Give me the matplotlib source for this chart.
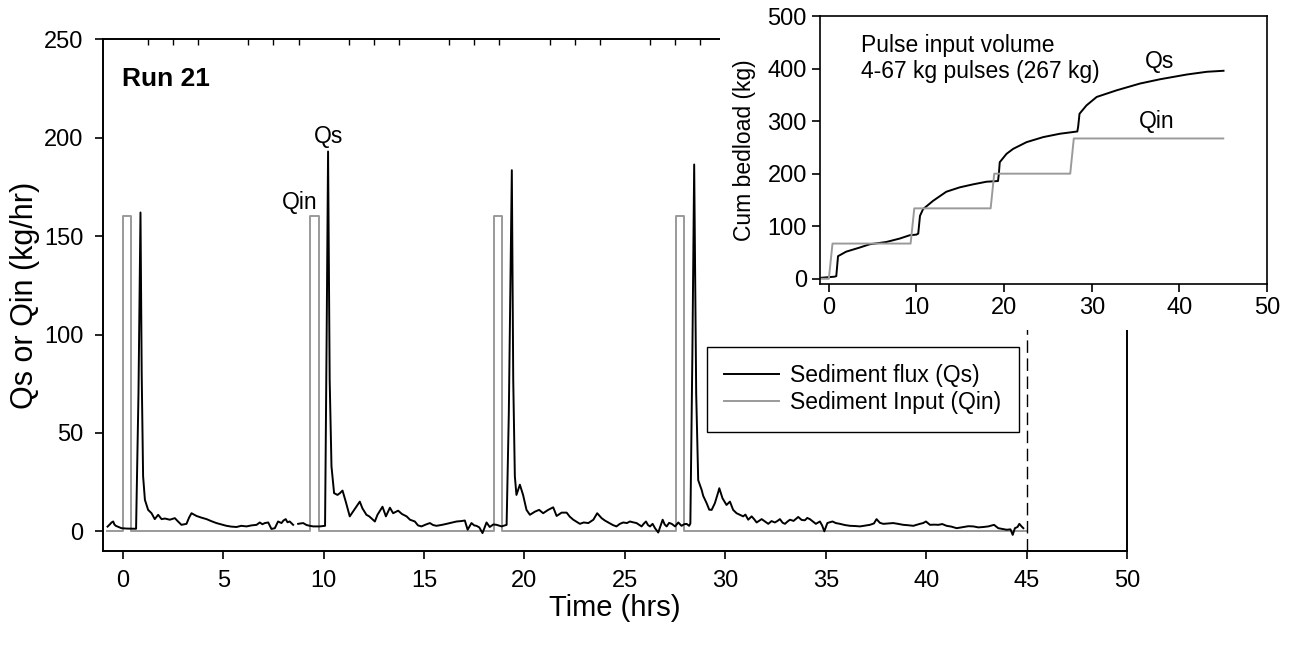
import numpy as np
import matplotlib
matplotlib.use("Agg")
import matplotlib.pyplot as plt
from matplotlib.ticker import MultipleLocator
from matplotlib.patches import Rectangle

plt.rcParams['font.family'] = ['Liberation Sans', 'DejaVu Sans']

# Sediment flux Qs (kg/hr) vs time (hrs)
qs_t = [-0.76, -0.64, -0.56, -0.48, -0.42, -0.35, -0.07, 0.2, 0.51, 0.66, 0.78, 0.88, 0.94, 1.01, 1.1,
        1.26, 1.43, 1.59, 1.76, 1.93, 2.1, 2.34, 2.59, 2.75, 2.92, 3.17, 3.3, 3.42, 3.67, 3.9, 4.17,
        4.4, 4.66, 4.9, 5.16, 5.4, 5.66, 5.9, 6.16, 6.4, 6.66, 6.82, 6.95, 7.07, 7.24, 7.4, 7.57,
        7.73, 7.9, 8.0, 8.11, 8.2, 8.31, 8.48, 8.6, 8.73, 8.98, 9.15, 9.31, 9.48, 9.81, 10.07, 10.15,
        10.22, 10.3, 10.39, 10.52, 10.69, 10.81, 10.94, 11.1, 11.3, 11.52, 11.8, 11.93, 12.13, 12.27,
        12.55, 12.68, 12.93, 13.1, 13.3, 13.46, 13.71, 13.9, 14.13, 14.3, 14.54, 14.7, 14.87, 15.1,
        15.29, 15.45, 15.62, 15.9, 16.12, 16.4, 16.62, 16.85, 17.03, 17.17, 17.36, 17.5, 17.61, 17.75,
        17.91, 18.11, 18.27, 18.45, 18.61, 18.86, 19.11, 19.22, 19.37, 19.44, 19.52, 19.6, 19.77,
        19.93, 20.1, 20.27, 20.52, 20.73, 20.93, 21.18, 21.43, 21.6, 21.85, 22.1, 22.25, 22.43,
        22.76, 22.95, 23.18, 23.43, 23.62, 23.84, 24.0, 24.17, 24.4, 24.58, 24.75, 24.92, 25.1,
        25.25, 25.4, 25.58, 25.7, 25.83, 25.95, 26.05, 26.15, 26.25, 26.38, 26.5, 26.66, 26.88,
        26.98, 27.08, 27.2, 27.33, 27.5, 27.66, 27.82, 27.95, 28.07, 28.2, 28.26, 28.36, 28.45,
        28.55, 28.65, 28.82, 28.9, 29.07, 29.2, 29.32, 29.48, 29.65, 29.7, 29.86, 30.06, 30.23,
        30.39, 30.56, 30.73, 30.89, 31.0, 31.14, 31.31, 31.45, 31.56, 31.81, 32.0, 32.14, 32.3,
        32.47, 32.6, 32.72, 32.85, 32.97, 33.1, 33.22, 33.4, 33.63, 33.8, 33.96, 34.08, 34.21,
        34.35, 34.51, 34.71, 34.82, 34.93, 35.08, 35.2, 35.34, 35.5, 35.71, 35.95, 36.21, 36.45,
        36.71, 36.95, 37.2, 37.4, 37.53, 37.7, 37.87, 38.1, 38.36, 38.6, 38.86, 39.1, 39.36, 39.69,
        39.85, 39.99, 40.19, 40.4, 40.61, 40.8, 41.02, 41.25, 41.52, 41.85, 42.1, 42.35, 42.6,
        42.85, 43.1, 43.38, 43.59, 43.8, 44.01, 44.2, 44.31, 44.42, 44.55, 44.64, 44.75, 44.84]
qs_v = [2.4, 3.6, 4.5, 5.0, 3.5, 2.8, 1.6, 1.4, 1.3, 1.3, 70, 162, 80, 28, 16,
        10.9, 9.2, 6.2, 8.4, 6.2, 6.5, 5.9, 6.7, 5.0, 3.3, 3.8, 7.0, 9.2, 7.8, 7.0, 6.2,
        5.2, 4.2, 3.5, 2.8, 2.4, 2.2, 2.8, 2.5, 3.0, 3.3, 4.5, 3.6, 4.2, 4.5, 1.2, 1.6,
        5.0, 4.2, 5.5, 6.2, 4.6, 5.0, 3.3, np.nan, 3.8, 4.2, 3.2, 2.8, 2.5, 2.5, 2.8, 100,
        193, 77, 33, 19.4, 18.5, 19.4, 20.7, 15.1, 7.6, 10.9, 15.1, 11.7, 8.4, 7.6,
        5.0, 8.4, 12.5, 7.6, 12.0, 9.2, 10.5, 8.8, 7.6, 5.9, 5.0, 3.0, 2.5, 3.5,
        4.2, 3.2, 2.8, 3.3, 3.8, 4.5, 5.0, 5.2, 5.5, 0.8, 4.2, 3.0, 2.8, 2.0,
        -0.9, 4.5, 2.2, 3.5, 3.3, 2.5, 3.3, 60, 183.5, 77, 28, 18.5, 23.7,
        18.5, 10.9, 8.4, 10.0, 10.9, 9.2, 10.9, 12.2, 7.8, 9.5, 9.5, 7.5, 5.9,
        3.8, 4.5, 4.2, 5.9, 9.2, 6.7, 5.5, 4.5, 3.2, 2.5, 3.8, 4.5, 4.2,
        5.0, 4.6, 4.2, 3.4, 2.5, 4.0, 5.0, 3.2, 2.5, 3.8, 1.6, -0.6, 5.9,
        3.5, 2.5, 4.3, 3.8, 2.5, 4.5, 2.8, 3.6, 3.8, 2.8, 4.0, 90, 186.4,
        70, 26, 21.1, 18, 14.3, 11, 10.9, 14.3, 20, 21.9, 16.8, 13.4, 15.1,
        10.9, 9.2, 8.4, 7.6, 8.5, 5.9, 7.6, 6.0, 4.5, 6.2, 4.8, 3.8, 5.2,
        4.5, 5.3, 6.2, 4.4, 3.8, 5.0, 5.9, 5.3, 7.3, 5.8, 5.6, 6.8, 6.2,
        5.1, 3.8, 5.0, 3.0, 0.0, 4.2, 4.6, 5.0, 4.2, 3.8, 3.2, 2.8, 2.7,
        2.5, 2.9, 3.3, 4.0, 6.2, 4.3, 3.8, 4.0, 4.2, 3.8, 3.3, 3.1, 2.8, 3.8,
        4.2, 5.0, 3.3, 3.4, 3.3, 3.7, 2.8, 2.4, 1.6, 2.2, 2.6, 2.5, 2.0,
        2.2, 2.5, 3.3, 1.6, 1.2, 0.8, 1.0, -1.8, 1.6, 2.2, 3.8, 2.5, 1.6]

# Sediment input pulses
pulse_start = [0.0, 9.33, 18.46, 27.54]
pulse_end = [0.42, 9.75, 18.87, 27.95]
pulse_rate = 160
run_start, run_end = -0.8, 45.0

# Cumulative bedload (kg) for the inset
cum_qs_t = [-0.87, 0.65, 0.85, 1.05, 1.98, 3.5, 4.65, 6.56, 8.08, 9.22, 9.98, 10.2, 10.4, 10.75,
            11.9, 13.4, 14.94, 16.46, 18.0, 19.3, 19.4, 19.5, 20.27, 21.03, 22.56, 24.46, 26.37,
            28.35, 28.45, 28.6, 29.4, 30.56, 32.85, 35.5, 37.8, 40.85, 43.13, 45.03]
cum_qs_v = [1.9, 4, 5, 43, 51.6, 59.3, 65.6, 70, 76.5, 82.8, 84, 86, 119.7, 132.5,
            148.4, 165.6, 174, 179.7, 184.7, 186, 200, 221.8, 237.7, 247.2, 260, 269.6, 276,
            280.3, 290, 314, 330, 346, 358.7, 371.5, 379.7, 388.7, 393.9, 395.8]
cum_qin_levels = [0, 67, 134, 200, 267]

# build the step series for Qin
qin_t = [run_start]
qin_v = [0]
for s, e in zip(pulse_start, pulse_end):
    qin_t += [s, s, e, e]
    qin_v += [0, pulse_rate, pulse_rate, 0]
qin_t.append(run_end)
qin_v.append(0)

cq_t = [-0.87]
cq_v = [0]
for i, (s, e) in enumerate(zip(pulse_start, pulse_end)):
    cq_t += [s, e]
    cq_v += [cum_qin_levels[i], cum_qin_levels[i + 1]]
cq_t.append(run_end)
cq_v.append(cum_qin_levels[-1])

fig = plt.figure(figsize=(12.89, 6.51), dpi=100)
ax = fig.add_axes([0.0797, 0.1536, 0.7946, 0.786])

gray = '#9a9a9a'
ax.plot(qs_t, qs_v, color='black', lw=1.4, label='Sediment flux (Qs)', zorder=3)
ax.plot(qin_t, qin_v, color=gray, lw=1.4, label='Sediment Input (Qin)', zorder=2)
ax.axvline(45, color='black', lw=1.0, linestyle=(0, (9, 4)))

ax.set_xlim(-1, 50)
ax.set_ylim(-10, 250)
ax.xaxis.set_major_locator(MultipleLocator(5))
ax.xaxis.set_minor_locator(MultipleLocator(1.25))
ax.yaxis.set_major_locator(MultipleLocator(50))
ax.tick_params(which='major', direction='out', length=6, width=1.2, labelsize=17, pad=8)
ax.tick_params(which='minor', axis='x', top=True, bottom=False, direction='in', length=4, width=1)
for sp in ax.spines.values():
    sp.set_linewidth(1.4)

ax.set_xlabel('Time (hrs)', fontsize=21, labelpad=1)
ax.set_ylabel('Qs or Qin (kg/hr)', fontsize=22, labelpad=3)

ax.text(-0.05, 229.6, 'Run 21', fontsize=19, fontweight='bold', va='center', ha='left')
ax.text(10.26, 200.8, 'Qs', fontsize=16.5, va='center', ha='center')
ax.text(8.81, 167.2, 'Qin', fontsize=16.5, va='center', ha='center')

leg = ax.legend(loc='upper left', bbox_to_anchor=(0.5482, 0.4674), bbox_transform=fig.transFigure,
                borderaxespad=0, fancybox=False, framealpha=1, edgecolor='black', fontsize=16.5,
                handlelength=2.4, handletextpad=0.5, borderpad=0.75, labelspacing=0.2)
leg.get_frame().set_linewidth(1.0)

# white block behind the inset so the main frame is hidden there
fig.patches.append(Rectangle((0.5586, 0.4931), 0.45, 0.51, transform=fig.transFigure,
                             facecolor='white', edgecolor='none', zorder=1))

ins = fig.add_axes([0.6362, 0.5637, 0.3468, 0.4117])
ins.set_zorder(2)
ins.plot(cum_qs_t, cum_qs_v, color='black', lw=1.4)
ins.plot(cq_t, cq_v, color=gray, lw=1.4)
ins.set_xlim(-1, 50)
ins.set_ylim(-10, 500)
ins.xaxis.set_major_locator(MultipleLocator(10))
ins.yaxis.set_major_locator(MultipleLocator(100))
ins.tick_params(direction='out', length=6, width=1.2, labelsize=17)
for sp in ins.spines.values():
    sp.set_linewidth(1.2)
ins.set_ylabel('Cum bedload (kg)', fontsize=16.5, labelpad=8)
ins.text(3.7, 444.7, 'Pulse input volume', fontsize=16.5, va='center', ha='left')
ins.text(3.7, 393.9, '4-67 kg pulses (267 kg)', fontsize=16.5, va='center', ha='left')
ins.text(37.7, 413, 'Qs', fontsize=16.5, va='center', ha='center')
ins.text(37.4, 299.4, 'Qin', fontsize=16.5, va='center', ha='center')

fig.savefig('out.png', dpi=100)
